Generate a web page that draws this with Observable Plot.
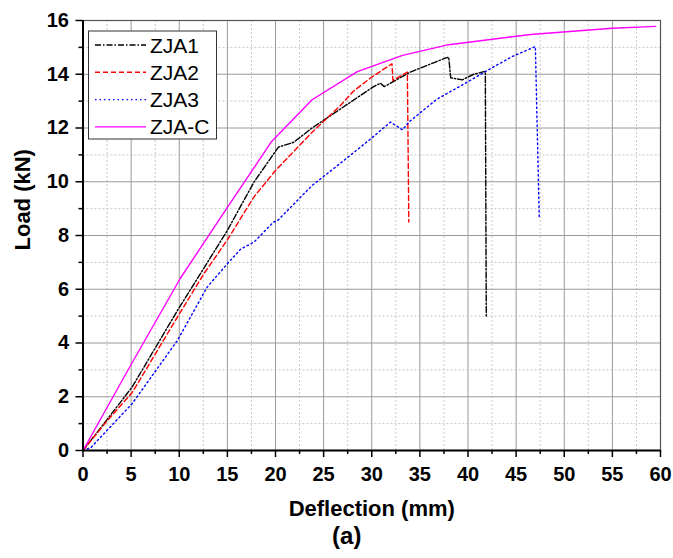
<!DOCTYPE html>
<html>
<head>
<meta charset="utf-8">
<script src="https://cdn.jsdelivr.net/npm/d3@7"></script>
<script src="https://cdn.jsdelivr.net/npm/@observablehq/plot@0.6"></script>
<style>
  body { margin: 0; background: #fff; }
  #chart svg { font-family: "Liberation Sans", Arial, sans-serif; }
  #chart svg g[aria-label$="tick label"] text { font-size: 20px; font-weight: bold; fill: #000; }
</style>
</head>
<body>
<div id="chart"></div>
<script>
// Series: [deflection (mm), load (kN)]
const zja1 = [[0,0],[2.5,1.15],[5.1,2.36],[9.8,5.2],[15.0,8.19],[17.75,9.98],[20.3,11.29],[21.9,11.47],[23.8,12.0],[26.75,12.71],[30.2,13.54],[30.9,13.67],[31.3,13.54],[34.0,14.08],[37.7,14.61],[38.0,14.63],[38.2,13.87],[39.4,13.79],[40.6,14.0],[41.8,14.11],[41.9,4.96]];
const zja2 = [[0,0],[2.5,1.1],[5.1,2.15],[9.8,4.96],[12.55,6.57],[15.0,7.84],[17.75,9.43],[20.0,10.42],[23.8,11.84],[26.75,12.84],[28.1,13.37],[29.9,13.87],[32.1,14.39],[32.2,13.77],[33.7,14.08],[33.85,8.5]];
const zja3 = [[0,0],[0.8,0.1],[2.5,0.75],[5.1,1.74],[9.8,4.09],[12.9,6.08],[15.0,6.95],[16.4,7.5],[17.75,7.75],[19.8,8.5],[20.2,8.55],[23.8,9.86],[26.75,10.69],[29.9,11.6],[31.95,12.22],[33.2,11.93],[33.85,12.22],[36.8,13.08],[39.6,13.64],[42.0,14.14],[44.6,14.66],[47.0,15.03],[47.4,8.68]];
const zjaC = [[0,0],[5.0,3.2],[10.1,6.4],[15.0,9.05],[19.6,11.5],[23.8,13.05],[28.5,14.1],[33.2,14.7],[38.0,15.1],[46.5,15.48],[55.0,15.71],[59.5,15.78]];

const seriesNames = ["ZJA1","ZJA2","ZJA3","ZJA-C"];
const seriesColors = ["#000000","#ff0000","#0000ff","#ff00ff"];
const seriesDash = ["6,2,1.5,2","5,3","1.5,3","none"];
const seriesData = [zja1, zja2, zja3, zjaC];

const xMajor = [0,5,10,15,20,25,30,35,40,45,50,55,60];
const xMinor = [2.5,7.5,12.5,17.5,22.5,27.5,32.5,37.5,42.5,47.5,52.5,57.5];
const yMajor = [0,2,4,6,8,10,12,14,16];
const yMinor = [1,3,5,7,9,11,13,15];
const xTitle = "Deflection (mm)";
const yTitle = "Load (kN)";
const caption = "(a)";

const lines = seriesData.map((d, i) => Plot.line(d, {
  x: p => p[0], y: p => p[1],
  stroke: seriesColors[i], strokeWidth: 1.4,
  strokeDasharray: seriesDash[i] === "none" ? null : seriesDash[i]
}));

const plot = Plot.plot({
  width: 673,
  height: 558,
  marginLeft: 82.5,
  marginRight: 13,
  marginTop: 20,
  marginBottom: 108,
  style: {fontFamily: "Liberation Sans, Arial, sans-serif", background: "#fff"},
  x: {domain: [0, 60]},
  y: {domain: [0, 16]},
  marks: [
    Plot.gridX(xMinor, {stroke: "#c8c8c8", strokeOpacity: 1, strokeDasharray: "2,2"}),
    Plot.gridY(yMinor, {stroke: "#c8c8c8", strokeOpacity: 1, strokeDasharray: "2,2"}),
    Plot.gridX(xMajor, {stroke: "#9a9a9a", strokeOpacity: 1}),
    Plot.gridY(yMajor, {stroke: "#9a9a9a", strokeOpacity: 1}),
    Plot.frame({stroke: "#555", strokeWidth: 1.2}),
    ...lines,
    Plot.axisX(xMinor, {tickSize: 4, text: null, label: null, strokeWidth: 1.5}),
    Plot.axisY(yMinor, {tickSize: 4, text: null, label: null, strokeWidth: 1.5}),
    Plot.axisX(xMajor, {tickSize: 7, tickPadding: 9, fontSize: 20, fontWeight: "bold", strokeWidth: 1.5, label: null}),
    Plot.axisY(yMajor, {tickSize: 7, tickPadding: 7, fontSize: 20, fontWeight: "bold", strokeWidth: 1.5, label: null}),
    Plot.ruleX([0], {stroke: "#000", strokeWidth: 2}),
    Plot.ruleY([0], {stroke: "#000", strokeWidth: 2}),
    Plot.text([xTitle], {frameAnchor: "bottom", dy: 65, fontSize: 22, fontWeight: "bold", fill: "#000"}),
    Plot.text([yTitle], {frameAnchor: "left", dx: -60, dy: 15, rotate: -90, fontSize: 22, fontWeight: "bold", fill: "#000"}),
    Plot.text([caption], {frameAnchor: "bottom", dx: -25, dy: 93, fontSize: 24, fontWeight: "bold", fill: "#000"})
  ]
});

const svg = d3.select(plot);
svg.selectAll("g").filter(function() {
  const a = this.getAttribute("aria-label") || "";
  return a.indexOf("tick label") >= 0;
}).each(function() {
  d3.select(this).attr("font-size", 20).attr("font-weight", "bold");
  d3.select(this).selectAll("text").style("font-size", "20px").style("font-weight", "bold");
});

// Legend box
const lg = svg.append("g").attr("text-anchor", "start");
lg.append("rect").attr("x", 88.5).attr("y", 31).attr("width", 128).attr("height", 108)
  .attr("fill", "#fff").attr("stroke", "#333").attr("stroke-width", 1);
seriesNames.forEach((name, i) => {
  const yy = 45 + i * 27.3;
  lg.append("line").attr("x1", 95).attr("x2", 146).attr("y1", yy).attr("y2", yy)
    .attr("stroke", seriesColors[i]).attr("stroke-width", 1.4)
    .attr("stroke-dasharray", seriesDash[i] === "none" ? null : seriesDash[i]);
  lg.append("text").attr("x", 150).attr("y", yy).attr("dy", "0.36em")
    .attr("font-size", 21).attr("fill", "#000").text(name);
});

document.getElementById("chart").append(plot);
</script>
</body>
</html>
